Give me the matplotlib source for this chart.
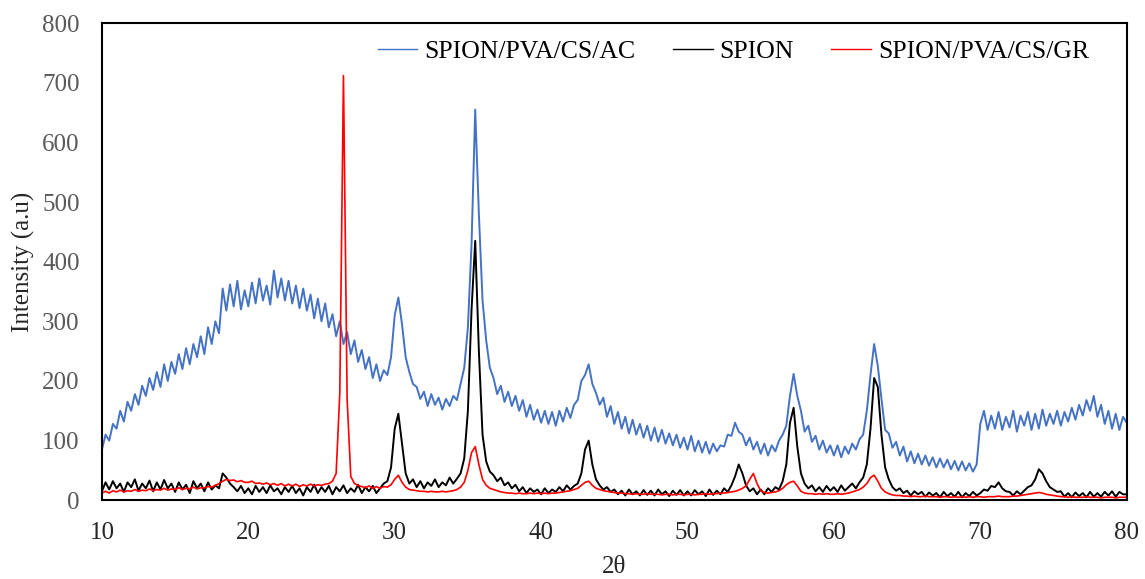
import numpy as np
import matplotlib.pyplot as plt

plt.rcParams['font.family'] = ['Liberation Serif', 'DejaVu Serif']

# 2theta sampled every 0.25 deg from 10 to 80
two_theta = np.arange(10, 80.001, 0.25)

# SPION/PVA/CS/AC (one row = 5 deg)
ac = [
    85, 110, 100, 128, 120, 150, 132, 165, 150, 178, 160, 192, 175, 205, 185, 215, 190, 228, 200, 232,
    212, 245, 220, 255, 228, 262, 240, 275, 245, 290, 262, 300, 280, 355, 318, 362, 325, 368, 320, 352,
    325, 365, 330, 372, 335, 360, 328, 385, 340, 372, 335, 368, 330, 360, 322, 355, 318, 345, 305, 338,
    300, 330, 290, 312, 275, 300, 262, 282, 245, 268, 232, 252, 220, 240, 205, 228, 200, 218, 210, 240,
    310, 340, 295, 240, 215, 195, 190, 170, 182, 158, 178, 160, 172, 152, 170, 158, 175, 168, 195, 222,
    290, 430, 655, 480, 335, 268, 222, 205, 178, 192, 165, 182, 158, 175, 150, 168, 140, 160, 135, 152,
    130, 150, 128, 148, 125, 150, 132, 155, 138, 160, 168, 200, 210, 228, 195, 180, 160, 172, 140, 158,
    128, 148, 120, 140, 112, 135, 110, 128, 105, 125, 100, 122, 98, 118, 95, 112, 92, 110, 88, 105,
    85, 108, 82, 100, 80, 98, 78, 95, 82, 92, 90, 110, 108, 130, 115, 110, 92, 105, 85, 98,
    78, 95, 75, 92, 82, 100, 110, 125, 175, 212, 175, 150, 115, 125, 98, 108, 85, 100, 80, 92,
    75, 92, 72, 90, 78, 95, 85, 102, 110, 150, 210, 262, 225, 170, 118, 112, 88, 98, 75, 90,
    65, 82, 62, 78, 60, 75, 58, 72, 55, 70, 55, 68, 52, 66, 50, 65, 50, 62, 48, 60,
    128, 150, 118, 142, 120, 148, 118, 140, 122, 150, 115, 142, 125, 148, 118, 145, 120, 152, 125, 145,
    128, 150, 125, 148, 132, 155, 135, 160, 142, 168, 150, 175, 140, 160, 128, 150, 120, 145, 118, 140,
    130,
]

# SPION
spion = [
    15, 30, 18, 32, 20, 28, 14, 30, 22, 35, 16, 28, 20, 33, 15, 30, 18, 34, 20, 28,
    14, 30, 18, 26, 12, 32, 20, 28, 15, 30, 18, 25, 20, 45, 38, 28, 22, 15, 24, 12,
    20, 10, 24, 14, 22, 12, 25, 15, 20, 10, 22, 14, 24, 12, 20, 8, 22, 14, 26, 12,
    22, 14, 24, 10, 22, 15, 25, 12, 20, 14, 26, 12, 22, 15, 24, 12, 20, 28, 32, 55,
    120, 145, 95, 45, 28, 35, 22, 32, 20, 30, 24, 35, 22, 30, 25, 38, 28, 36, 45, 70,
    150, 320, 435, 250, 110, 65, 48, 42, 32, 38, 25, 30, 20, 26, 15, 22, 12, 20, 14, 18,
    10, 20, 12, 18, 14, 22, 15, 25, 18, 24, 28, 45, 85, 100, 60, 35, 25, 18, 22, 14,
    18, 10, 16, 8, 18, 10, 15, 8, 17, 9, 16, 8, 18, 10, 15, 7, 16, 9, 17, 8,
    15, 8, 17, 10, 15, 7, 18, 9, 16, 10, 20, 14, 25, 40, 60, 45, 25, 15, 20, 10,
    18, 10, 20, 14, 22, 18, 32, 60, 130, 155, 90, 45, 28, 20, 25, 15, 22, 14, 24, 16,
    22, 14, 25, 16, 22, 28, 20, 30, 38, 60, 120, 205, 190, 110, 55, 35, 22, 16, 20, 12,
    16, 8, 15, 10, 14, 6, 13, 8, 12, 5, 14, 7, 12, 6, 14, 5, 12, 7, 14, 8,
    12, 18, 16, 24, 22, 30, 20, 15, 14, 8, 15, 10, 16, 22, 25, 35, 52, 45, 32, 22,
    18, 14, 15, 6, 12, 5, 13, 7, 12, 5, 14, 6, 12, 6, 14, 8, 15, 6, 14, 10,
    10,
]

# SPION/PVA/CS/GR
gr = [
    12, 15, 12, 16, 14, 17, 14, 16, 15, 18, 15, 17, 16, 19, 16, 18, 17, 20, 17, 19,
    18, 21, 18, 20, 19, 22, 19, 21, 21, 23, 22, 25, 28, 32, 35, 33, 34, 31, 33, 30,
    30, 32, 28, 29, 27, 29, 26, 28, 25, 28, 24, 27, 24, 27, 23, 26, 24, 27, 24, 26,
    25, 27, 28, 32, 45, 180, 712, 170, 40, 28, 25, 23, 21, 24, 20, 23, 20, 23, 22, 26,
    35, 42, 30, 22, 18, 17, 16, 15, 15, 14, 15, 14, 14, 15, 14, 15, 16, 18, 22, 30,
    50, 80, 90, 60, 35, 25, 20, 18, 16, 14, 13, 12, 12, 11, 12, 11, 11, 12, 11, 12,
    11, 12, 11, 12, 12, 13, 14, 15, 16, 18, 20, 25, 30, 32, 25, 20, 18, 16, 15, 14,
    13, 12, 12, 11, 11, 10, 11, 10, 10, 11, 10, 10, 10, 9, 10, 10, 9, 10, 10, 9,
    10, 10, 9, 10, 10, 11, 10, 11, 11, 12, 12, 13, 14, 15, 17, 20, 24, 35, 45, 28,
    16, 13, 12, 13, 14, 16, 20, 26, 30, 32, 24, 15, 12, 11, 11, 10, 11, 10, 11, 10,
    10, 11, 10, 11, 12, 14, 16, 18, 22, 28, 38, 42, 32, 20, 14, 11, 9, 8, 8, 7,
    7, 6, 7, 6, 6, 7, 6, 6, 6, 5, 6, 6, 5, 6, 5, 6, 5, 6, 5, 6,
    6, 5, 6, 6, 6, 7, 6, 6, 6, 7, 7, 8, 9, 10, 11, 12, 13, 12, 10, 9,
    8, 7, 6, 6, 5, 6, 5, 5, 5, 6, 5, 5, 5, 4, 5, 5, 5, 4, 5, 5,
    5,
]

fig = plt.figure(figsize=(11.45, 5.79), dpi=100)
ax = fig.add_axes([0.089, 0.136, 0.895, 0.824])

ax.plot(two_theta, ac, color='#4472C4', lw=1.4, label='SPION/PVA/CS/AC')
ax.plot(two_theta, spion, color='black', lw=1.4, label='SPION')
ax.plot(two_theta, gr, color='#FF0000', lw=1.2, label='SPION/PVA/CS/GR')

ax.set_xlim(10, 80)
ax.set_ylim(0, 800)
ax.set_xticks(range(10, 81, 10))
ax.set_yticks(range(0, 801, 100))
ax.tick_params(length=0, labelsize=18, pad=16)
ax.tick_params(axis='y', colors='#595959')
ax.tick_params(axis='x', colors='#262626')
for s in ax.spines.values():
    s.set_linewidth(1.5)

ax.set_xlabel('2θ', fontsize=18, labelpad=8, color='#262626')
ax.set_ylabel('Intensity (a.u)', fontsize=18, labelpad=5, color='#262626')

leg = ax.legend(loc='center left', bbox_to_anchor=(0.269, 0.941), ncol=3, frameon=False,
                fontsize=18.5, handlelength=1.55, handletextpad=0.27, columnspacing=1.45,
                borderpad=0, borderaxespad=0)
for h in leg.get_lines():
    h.set_linewidth(1.0)

fig.savefig('out.png', dpi=100)
